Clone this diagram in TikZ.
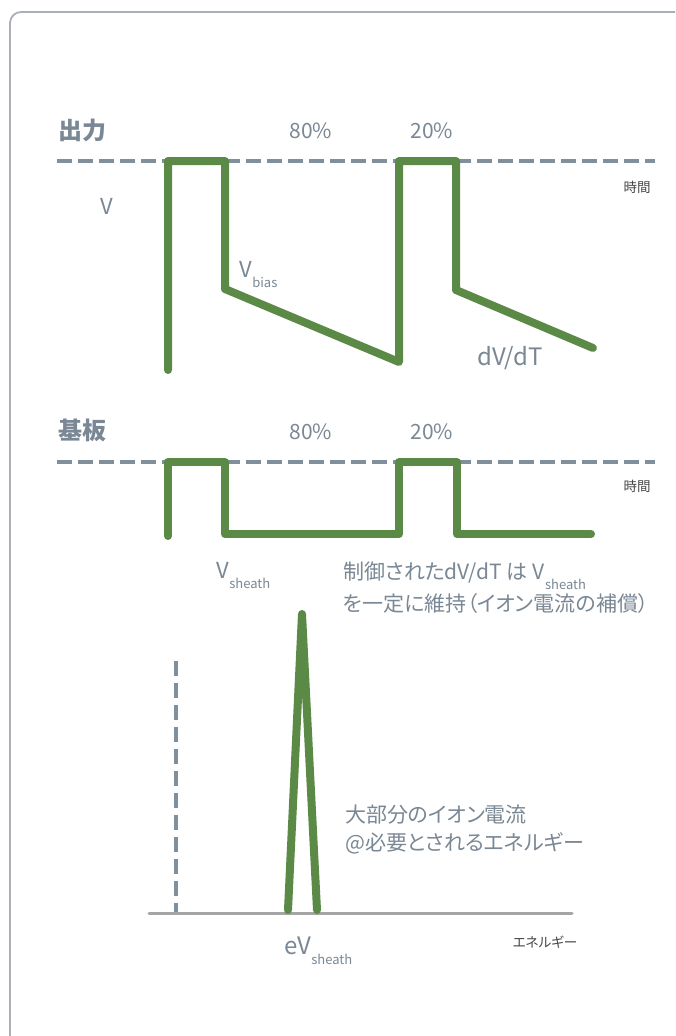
\documentclass[tikz,border=0pt]{standalone}
\usepackage{fontspec}
\setmainfont{Noto Sans CJK JP}
\newfontfamily\jp[RawFeature=+palt]{Noto Sans CJK JP}
\definecolor{txtc}{RGB}{122,135,148}
\definecolor{dashc}{RGB}{127,143,156}
\definecolor{wavec}{RGB}{90,138,70}
\definecolor{framec}{RGB}{170,176,182}
\definecolor{axisc}{RGB}{165,165,165}
\definecolor{darkc}{RGB}{70,70,70}
\newcommand\mysubtext[1]{\kern0.5pt\raisebox{-10pt}{\fontsize{13}{15}\selectfont #1}}
\tikzset{
  lbl/.style={text=txtc, inner sep=0pt, font=\jp\fontsize{21}{24}\selectfont},
  pct/.style={text=txtc, inner sep=0pt, font=\jp\fontsize{21}{24}\selectfont},
  title/.style={text=txtc, inner sep=0pt, font=\jp\bfseries\fontsize{24}{26}\selectfont},
  small/.style={text=darkc, inner sep=0pt, font=\jp\fontsize{13.5}{15}\selectfont},
  dashline/.style={draw=dashc, line width=4pt, dash pattern=on 15pt off 6pt},
  wave/.style={draw=wavec, line width=8pt, line cap=round, line join=round},
}
\begin{document}
\begin{tikzpicture}[x=1pt,y=-1pt]
\useasboundingbox (0,0) rectangle (675,1036);
\clip (0,0) rectangle (675,1036);
\fill[white] (0,0) rectangle (675,1036);
\draw[framec, line width=1.8pt, rounded corners=11pt] (10,12) rectangle (686,1060);

% --- Output section
\node[title, anchor=west] (t1) at (58,130) {出力};
\node[pct] (p80a) at (311,131) {80\%};
\node[pct] (p20a) at (432,131) {20\%};
\draw[dashline] (57,161) -- (655,161);
\node[small] (time1) at (637,187) {時間};
\node[lbl, font=\jp\fontsize{22}{24}\selectfont] (v) at (107,206) {V};
\node[lbl, font=\jp\fontsize{22}{24}\selectfont, anchor=base west] (vb) at (239,277) {V\mysubtext{bias}};
\node[lbl, font=\jp\fontsize{24}{26}\selectfont] (dvdt) at (510,358) {dV/dT};
\draw[wave] (168,370) -- (168,161) -- (225,161) -- (225,289) -- (399,362) -- (399,161) -- (456,161) -- (456,290) -- (593,348);

% --- Substrate section
\node[title, anchor=west] (t2) at (58,430) {基板};
\node[pct] (p80b) at (311,432) {80\%};
\node[pct] (p20b) at (432,432) {20\%};
\draw[dashline] (57,462) -- (655,462);
\node[small] (time2) at (637,486) {時間};
\draw[wave] (168,536) -- (168,462) -- (225,462) -- (225,534) -- (399,534) -- (399,462) -- (457,462) -- (457,534) -- (591,534);
\node[lbl, font=\jp\fontsize{22}{24}\selectfont, anchor=base west] (vs) at (216,578) {V\mysubtext{sheath}};
\node[lbl, anchor=base west] (c1) at (343,579) {制御されたdV/dT は V\mysubtext{sheath}};
\node[lbl, anchor=west] (c2) at (343,604) {を一定に維持（イオン電流の補償）};

% --- Energy section
\draw[draw=dashc, line width=3.5pt, dash pattern=on 15pt off 7pt] (176,661) -- (176,912);
\draw[draw=axisc, line width=3pt, line cap=round] (149,913) -- (572,913);
\draw[wave] (288,910) -- (302,614) -- (317,910);
\node[lbl, anchor=west] (m1) at (345,815) {大部分のイオン電流};
\node[lbl, anchor=west] (m2) at (345,843) {@必要とされるエネルギー};
\node[small] (en) at (545,942) {エネルギー};
\node[lbl, font=\jp\fontsize{24}{26}\selectfont, anchor=base west] (ev) at (284,954) {eV\mysubtext{sheath}};
\end{tikzpicture}
\end{document}
